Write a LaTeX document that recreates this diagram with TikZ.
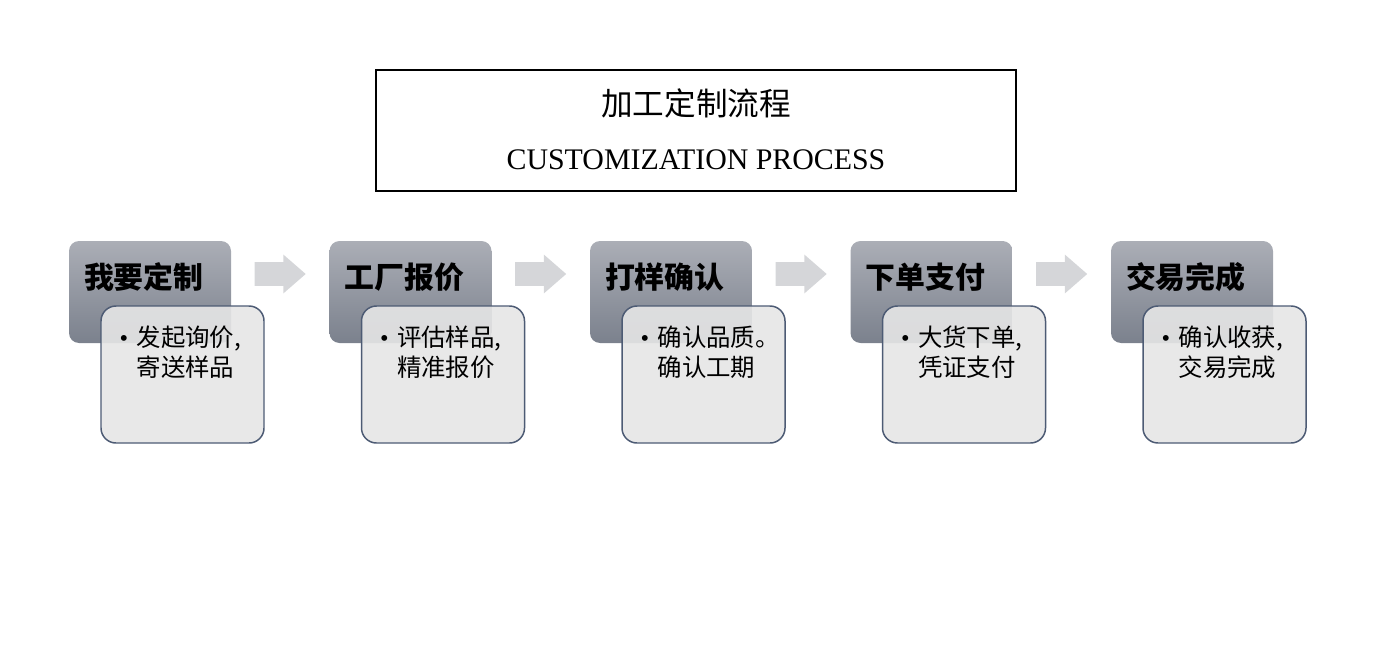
\documentclass[tikz,border=0pt]{standalone}
\usepackage{fontspec}
\setmainfont{Liberation Serif}
\newfontfamily\cjk{Noto Sans CJK SC}
\usetikzlibrary{shapes.arrows,calc}

\definecolor{darktop}{HTML}{ABAEB6}
\definecolor{darkbot}{HTML}{7B818D}
\definecolor{cardfill}{HTML}{E6E6E6}
\definecolor{cardline}{HTML}{4D5B74}
\definecolor{arrowfill}{HTML}{D5D6D9}

\tikzset{
  headbox/.style={rounded corners=0.2cm, top color=darktop, bottom color=darkbot,
    minimum width=3.24cm, minimum height=2.04cm, inner sep=0},
  cardbox/.style={rounded corners=0.3cm, fill=cardfill, fill opacity=0.9, draw=cardline,
    line width=0.85pt, minimum width=3.26cm, minimum height=2.74cm, inner sep=0},
  headtext/.style={font=\cjk\bfseries\fontsize{17}{20}\selectfont, anchor=west, inner sep=0},
  cardtext/.style={font=\cjk\fontsize{13.9}{17}\selectfont, anchor=north west, align=left, inner sep=0},
  steparrow/.style={single arrow, fill=arrowfill, draw=none, inner xsep=0, inner ysep=0.23cm,
    anchor=west, minimum height=1.02cm, single arrow head extend=0.15cm,
    single arrow tip angle=82}
}

\newcommand{\dotmark}{\makebox[0.34cm][l]{\rmfamily\fontsize{13.9}{17}\selectfont •}}

\NewDocumentCommand{\stepcell}{mmmm}{%
\node[headbox] (h#1) at ({3.0+5.21*#1},7.40) {};%
\node[cardbox] (c#1) at ($(h#1.center)+(0.65,-1.65)$) {};%
\node[headtext] (t#1) at ($(h#1.west)+(0.30,0.30)$) {#2};%
\node[cardtext] (b#1) at ($(c#1.north west)+(0.38,-0.40)$) {\dotmark#3\\\hspace*{0.34cm}#4};%
}

\begin{document}
\begin{tikzpicture}
    \useasboundingbox (0,0) rectangle (27.68,13.24);

    % title
    \node[draw, line width=1pt, minimum width=12.8cm, minimum height=2.42cm, inner sep=0] (title) at (13.92,10.63) {};
    \node[font=\cjk\fontsize{18}{20}\selectfont] (titlecn) at (13.92,11.18) {加工定制流程};
    \node[font=\fontsize{17}{20}\selectfont] (titleen) at (13.92,10.04) {CUSTOMIZATION PROCESS};

    % steps
    \stepcell{0}{我要定制}{发起询价,}{寄送样品}
    \stepcell{1}{工厂报价}{评估样品,}{精准报价}
    \stepcell{2}{打样确认}{确认品质。}{确认工期}
    \stepcell{3}{下单支付}{大货下单,}{凭证支付}
    \stepcell{4}{交易完成}{确认收获,}{交易完成}

    % arrows
    \foreach \i in {0,...,3} {
        \node[steparrow] (a\i) at ($(h\i.east)+(0.46,0.36)$) {};
    }
\end{tikzpicture}
\end{document}
